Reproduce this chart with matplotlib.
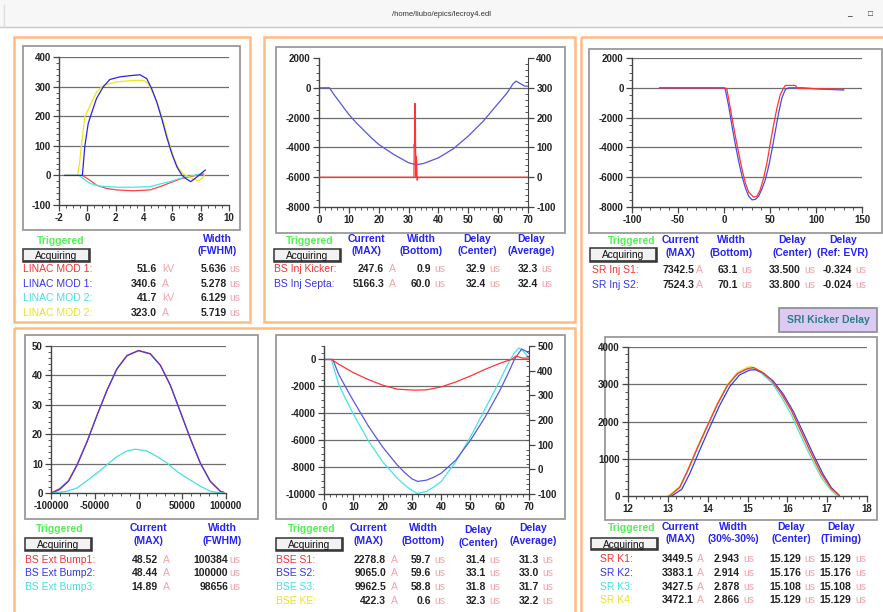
import matplotlib
matplotlib.use("Agg")
import matplotlib.pyplot as plt
from matplotlib.patches import Rectangle
from matplotlib.ticker import MultipleLocator

plt.rcParams["axes.unicode_minus"] = False

W, H = 883, 612

# ---- curve data ----
# linac modulators, x in us
mod1_volt_x = [-0.35, 0.17, 0.65, 1.35, 2.06, 3.24, 4.43, 5.13, 5.84, 6.55, 7.26, 7.97, 8.2]
mod1_volt_y = [0, -16, -33, -44, -49, -52, -49, -38, -25, -12, -4, 3, 4]
mod1_cur_x = [-1.6, -0.35, -0.18, 0.06, 0.29, 0.65, 1.12, 1.59, 2.3, 3.24, 3.72, 4.19, 4.54, 4.9,
              5.25, 5.6, 5.96, 6.32, 6.67, 7.02, 7.3, 7.61, 7.97, 8.32]
mod1_cur_y = [0, 0, 97, 175, 209, 260, 299, 324, 333, 338, 340, 327, 293, 248,
              192, 130, 74, 29, 1, -13, -21, -10, 4, 18]
mod2_volt_x = [-1.6, -0.6, -0.3, 0.17, 0.88, 2.06, 3.24, 4.43, 5.13, 5.84, 6.55, 7.26, 7.97, 8.2]
mod2_volt_y = [0, 0, -10, -27, -36, -40, -40, -38, -29, -21, -10, -2, 4, 7]
mod2_cur_x = [-1.6, -0.7, -0.55, -0.42, -0.18, 0.17, 0.65, 1.12, 2.06, 3.24, 3.95, 4.3, 4.66, 5.0,
              5.37, 5.72, 6.08, 6.43, 6.79, 7.14, 7.5, 7.85, 8.09, 8.25]
mod2_cur_y = [0, 0, 40, 100, 198, 234, 282, 304, 316, 321, 321, 310, 276, 237,
              181, 119, 63, 24, 4, -4, -13, -18, -10, 0]

# bs injection
septa_x = [0, 3.5, 5, 7.5, 10, 12.5, 15, 17.5, 20, 25, 30, 32.5, 35, 40, 45, 50, 55, 60, 63, 65,
           66, 67.5, 69, 70]
septa_y = [0, 0, -450, -1120, -1790, -2350, -2850, -3350, -3800, -4470, -5030, -5160, -5080,
           -4700, -4090, -3240, -2240, -1050, -340, 270, 450, 270, 110, 110]
kicker_x = [0, 31.8, 31.9, 32.0, 32.1, 32.25, 32.4, 32.5, 32.6, 32.75, 32.85, 33.0, 33.1, 70]
kicker_y = [0, 0, 110, 100, 248, 240, 0, 55, 70, 40, -10, -8, 0, 0]

# sr injection septa
sr_s1_x = [-70, 0, 3, 8.7, 12.3, 15.9, 19.6, 23.2, 26.8, 32.2, 35.9, 39.5, 43.1, 46.7, 50.4,
           54, 57.6, 61.2, 64.9, 66.7, 77.5, 80, 100, 130]
sr_s1_y = [0, 0, -50, -2010, -3240, -4360, -5480, -6380, -7000, -7340, -7270, -6820, -6040,
           -5030, -3690, -2460, -1340, -450, 0, 160, 160, -40, -60, -100]
sr_s2_x = [-70, 0, 1.4, 5.1, 8.7, 12.3, 15.9, 19.6, 23.2, 26.8, 30.4, 34.1, 37.7, 41.3, 45,
           48.6, 52.2, 55.8, 59.4, 63, 66.7, 70.3, 84.8, 99, 113.8, 130]
sr_s2_y = [0, 0, -100, -1230, -2570, -3800, -4920, -5930, -6710, -7270, -7520, -7490, -7270,
           -6780, -6150, -5260, -4140, -2910, -1680, -670, -110, 0, 0, -60, -110, -150]

# bs extraction bumps
bump_x = [-98000, -90000, -80000, -70300, -58900, -47400, -36000, -24600, -13100, 0, 13500,
          25000, 36400, 47800, 59200, 70700, 82100, 93500, 97300]
bump1_y = [0.3, 1.5, 4.2, 9.6, 17.5, 26.5, 35, 42.3, 46.8, 48.5, 47.4, 43.5, 36.7, 27.7, 18.6,
           10.2, 4, 0.6, 0.2]
bump2_y = [0.1, 1.2, 4.0, 9.4, 17.3, 26.4, 34.9, 42.2, 46.7, 48.4, 47.3, 43.4, 36.6, 27.6, 18.5,
           10.1, 3.9, 0.6, 0.2]
bump3_x = [-97000, -81700, -70300, -58900, -47400, -36000, -24600, -13100, -3600, 9700, 21100,
           32600, 44000, 55400, 70700, 82100, 93500, 97000]
bump3_y = [0, 0.6, 1.7, 4.2, 6.8, 9.6, 12.4, 14.3, 14.9, 14.3, 12.4, 10.2, 7.3, 5.1, 2.3, 0.6, 0, 0]

# bs extraction septa
bse_s1_x = [0, 2.5, 5, 10, 15, 20, 25, 31, 35, 40, 45, 50, 55, 60, 64, 65.5, 67, 68, 70]
bse_s1_y = [0, 0, -350, -980, -1480, -1910, -2210, -2280, -2260, -2040, -1670, -1230, -735,
            -290, 0, 250, 150, 100, 100]
bse_s2_x = [0, 3, 5, 7.5, 10, 15, 20, 25, 27.5, 30, 32, 35, 37.5, 40, 45, 50, 55, 60, 63, 65,
            67.5, 69, 70]
bse_s2_y = [0, 0, -1100, -2100, -3060, -4900, -6500, -7840, -8400, -8870, -9065, -8970, -8750,
            -8460, -7480, -6010, -4290, -2330, -980, 0, 780, 610, 440]
bse_s3_x = [0, 2.5, 5, 7.5, 10, 15, 20, 25, 27.5, 30, 31.8, 35, 37.5, 40, 45, 50, 55, 60, 63,
            65, 66.5, 68, 70]
bse_s3_y = [0, 0, -1840, -2980, -4040, -6000, -7600, -8820, -9330, -9730, -9960, -9800, -9480,
            -9070, -7600, -5760, -3680, -1590, -245, 490, 860, 610, 120]

# sr kickers
k1_x = [13.05, 13.3, 13.5, 13.75, 14.0, 14.25, 14.5, 14.75, 15.0, 15.15, 15.35, 15.6, 15.85,
        16.1, 16.35, 16.6, 16.85, 17.1, 17.3]
k1_y = [0, 240, 690, 1315, 1900, 2480, 2975, 3290, 3420, 3450, 3330, 3110, 2750, 2300, 1720,
        1140, 600, 200, 20]
k2_x = [13.1, 13.35, 13.55, 13.8, 14.05, 14.3, 14.55, 14.8, 15.05, 15.2, 15.4, 15.65, 15.9,
        16.15, 16.4, 16.65, 16.9, 17.1, 17.3]
k2_y = [0, 180, 600, 1230, 1840, 2430, 2930, 3250, 3380, 3390, 3300, 3080, 2730, 2270, 1700,
        1120, 580, 230, 20]
k3_x = [13.0, 13.3, 13.5, 13.75, 14.0, 14.25, 14.5, 14.75, 15.0, 15.15, 15.35, 15.6, 15.85,
        16.1, 16.35, 16.6, 16.85, 17.1, 17.25]
k3_y = [0, 220, 660, 1290, 1880, 2460, 2960, 3280, 3410, 3420, 3300, 3050, 2660, 2180, 1590,
        1020, 500, 150, 10]
k4_x = [13.0, 13.3, 13.5, 13.75, 14.0, 14.25, 14.5, 14.75, 15.0, 15.1, 15.35, 15.6, 15.85,
        16.1, 16.35, 16.6, 16.85, 17.1, 17.3]
k4_y = [0, 250, 700, 1330, 1920, 2500, 3000, 3320, 3460, 3470, 3350, 3120, 2740, 2280, 1700,
        1110, 570, 180, 10]

# ---- readout tables ----
linac_names = ["LINAC MOD 1:", "LINAC MOD 1:", "LINAC MOD 2:", "LINAC MOD 2:"]
linac_max = ["51.6", "340.6", "41.7", "323.0"]
linac_units = ["kV", "A", "kV", "A"]
linac_fwhm = ["5.636", "5.278", "6.129", "5.719"]

bsinj_names = ["BS Inj Kicker:", "BS Inj Septa:"]
bsinj_max = ["247.6", "5166.3"]
bsinj_width = ["0.9", "60.0"]
bsinj_center = ["32.9", "32.4"]
bsinj_avg = ["32.3", "32.4"]

srinj_names = ["SR Inj S1:", "SR Inj S2:"]
srinj_max = ["7342.5", "7524.3"]
srinj_width = ["63.1", "70.1"]
srinj_center = ["33.500", "33.800"]
srinj_evr = ["-0.324", "-0.024"]

bump_names = ["BS Ext Bump1:", "BS Ext Bump2:", "BS Ext Bump3:"]
bump_max = ["48.52", "48.44", "14.89"]
bump_fwhm = ["100384", "100000", "98656"]

bse_names = ["BSE S1:", "BSE S2:", "BSE S3:", "BSE KE:"]
bse_max = ["2278.8", "9065.0", "9962.5", "422.3"]
bse_width = ["59.7", "59.6", "58.8", "0.6"]
bse_center = ["31.4", "33.1", "31.8", "32.3"]
bse_avg = ["31.3", "33.0", "31.7", "32.2"]

kick_names = ["SR K1:", "SR K2:", "SR K3:", "SR K4:"]
kick_max = ["3449.5", "3383.1", "3427.5", "3472.1"]
kick_width = ["2.943", "2.914", "2.878", "2.866"]
kick_center = ["15.129", "15.176", "15.108", "15.129"]
kick_timing = ["15.129", "15.176", "15.108", "15.129"]

RED = "#f03535"
BLUE = "#3535e0"
CYAN = "#45e0e0"
YELLOW = "#e4e42a"
HDR = "#2424f2"
GREEN = "#55f055"
PINK = "#f4a3ab"
DARK = "#222222"
ORANGE = "#ffbb80"
FONT = "Liberation Sans"

fig = plt.figure(figsize=(W / 100, H / 100), dpi=100)
fig.patch.set_facecolor("white")

# background axes in screen pixels
bg = fig.add_axes([0, 0, 1, 1])
bg.set_xlim(0, W)
bg.set_ylim(H, 0)
bg.axis("off")


def rect(x0, y0, x1, y1, **kw):
    bg.add_patch(Rectangle((x0, y0), x1 - x0, y1 - y0, **kw))


def txt(x, y, s, color=DARK, ha="left", bold=False, size=7.5):
    bg.text(x, y, s, color=color, ha=ha, va="center", fontsize=size,
            fontweight="bold" if bold else "normal", family=FONT)


def button(x0, y0, x1, y1, label="Acquiring"):
    rect(x0, y0, x1, y1, facecolor="#f2f2f2", edgecolor="#333333", lw=1.1)
    bg.plot([x0 + 1, x1 - 1], [y1 - 1, y1 - 1], color="#333333", lw=1.2)
    bg.plot([x1 - 1, x1 - 1], [y0 + 1, y1 - 1], color="#333333", lw=1.2)
    txt((x0 + x1) / 2, (y0 + y1) / 2 + 0.5, label, color="#111111", ha="center", size=7.3)


def header(x, y, a, b):
    txt(x, y, a, color=HDR, ha="center", bold=True, size=7.5)
    txt(x, y + 12.5, b, color=HDR, ha="center", bold=True, size=7.5)


# title bar
rect(0, 0, W, 27, facecolor="#f7f7f7", edgecolor="none")
bg.plot([0, W], [27, 27], color="#c8c8c8", lw=1)
bg.plot([4, 4], [5, 27], color="#dddddd", lw=1)
txt(441, 14, "/home/liubo/epics/lecroy4.edl", color="#333333", ha="center", size=5.5)
txt(849, 15, "_", color="#333333", ha="center", size=6, bold=True)
txt(870, 14, "\u25a1", color="#333333", ha="center", size=6)

# orange group boxes
for x0, y0, x1, y1 in [(14, 37, 250, 322), (264, 37, 575, 322), (581, 37, 895, 625), (14, 328, 575, 625)]:
    rect(x0, y0, x1, y1, facecolor="none", edgecolor=ORANGE, lw=1.8)

# plot frames
for x0, y0, x1, y1 in [(23, 46, 240, 230), (276, 47, 565, 233), (589, 49, 882, 233),
                       (25, 335, 258, 519), (276, 335, 565, 519), (605, 337, 877, 520)]:
    rect(x0, y0, x1, y1, facecolor="white", edgecolor="#9a9a9a", lw=1.3)


def make_ax(l, t, r, b, xlim, ylim, xmaj, ymaj, xmin, ymin, grid):
    ax = fig.add_axes([l / W, 1 - b / H, (r - l) / W, (b - t) / H])
    ax.patch.set_alpha(0)
    ax.set_xlim(*xlim)
    ax.set_ylim(*ylim)
    ax.xaxis.set_major_locator(MultipleLocator(xmaj))
    ax.xaxis.set_minor_locator(MultipleLocator(xmin))
    ax.yaxis.set_major_locator(MultipleLocator(ymaj))
    ax.yaxis.set_minor_locator(MultipleLocator(ymin))
    for s in ["top", "right"]:
        ax.spines[s].set_visible(False)
    for s in ["left", "bottom"]:
        ax.spines[s].set_color("#444444")
        ax.spines[s].set_linewidth(1)
    ax.tick_params(which="major", length=4, width=0.9, color="#444444", labelsize=7,
                   labelcolor=DARK, pad=2)
    ax.tick_params(which="minor", length=2.2, width=0.7, color="#555555")
    for lab in ax.get_xticklabels() + ax.get_yticklabels():
        lab.set_fontweight("bold")
        lab.set_family(FONT)
    for g in grid:
        ax.axhline(g, color="#6e6e6e", lw=0.9, zorder=0.5)
    return ax


def right_axis(ax, ylim, ymaj, ymin):
    ax2 = ax.twinx()
    ax2.patch.set_alpha(0)
    ax2.set_ylim(*ylim)
    ax2.yaxis.set_major_locator(MultipleLocator(ymaj))
    ax2.yaxis.set_minor_locator(MultipleLocator(ymin))
    for s in ["top", "left", "bottom"]:
        ax2.spines[s].set_visible(False)
    ax2.spines["right"].set_color("#444444")
    ax2.tick_params(which="major", length=4, width=0.9, color="#444444", labelsize=7,
                    labelcolor=DARK, pad=2)
    ax2.tick_params(which="minor", length=2.2, width=0.7, color="#555555", direction="in")
    for lab in ax2.get_yticklabels():
        lab.set_fontweight("bold")
        lab.set_family(FONT)
    return ax2


# ---- plot A: linac modulators ----
ax = make_ax(59, 57, 229, 205, (-2, 10), (-100, 400), 2, 100, 0.5, 20, [0, 100, 200, 300, 400])
ax.plot(mod1_volt_x, mod1_volt_y, color="#ff4444", lw=0.9)
ax.plot(mod2_volt_x, mod2_volt_y, color="#44e8e8", lw=0.9)
ax.plot(mod2_cur_x, mod2_cur_y, color="#e8e820", lw=0.9)
ax.plot(mod1_cur_x, mod1_cur_y, color="#2525e8", lw=0.9)

# ---- plot B: bs injection ----
ax = make_ax(319, 58, 528, 207, (0, 70), (-8000, 2000), 10, 2000, 2, 500, [0, -2000, -4000, -6000])
ax.plot(septa_x, septa_y, color="#5555e0", lw=0.9)
ax2 = right_axis(ax, (-100, 400), 100, 20)
ax2.plot(kicker_x, kicker_y, color="#ff3333", lw=0.9)

# ---- plot C: sr injection ----
ax = make_ax(632, 58, 862, 207, (-100, 150), (-8000, 2000), 50, 2000, 10, 500,
             [2000, 0, -2000, -4000, -6000])
ax.plot(sr_s2_x, sr_s2_y, color="#4a4ae8", lw=0.9)
ax.plot(sr_s1_x, sr_s1_y, color="#ff3535", lw=0.9)

# ---- plot D: bs extraction bumps ----
ax = make_ax(51, 346, 226, 493, (-100000, 100000), (0, 50), 50000, 10, 10000, 2,
             [10, 20, 30, 40, 50])
ax.plot(bump_x, bump1_y, color="#ff3535", lw=0.9)
ax.plot(bump_x, bump2_y, color="#4040e0", lw=0.9)
ax.plot(bump3_x, bump3_y, color="#45e0e0", lw=0.9)

# ---- plot E: bs extraction septa ----
ax = make_ax(324, 346, 529, 494, (0, 70), (-10000, 1000), 10, 2000, 2, 500,
             [0, -2000, -4000, -6000, -8000])
ax.plot(bse_s3_x, bse_s3_y, color="#45e5e5", lw=0.9)
ax.plot(bse_s2_x, bse_s2_y, color="#5a5ae0", lw=0.9)
ax.plot(bse_s1_x, bse_s1_y, color="#ff3535", lw=0.9)
right_axis(ax, (-100, 500), 100, 20)

# ---- plot F: sr kickers ----
ax = make_ax(628, 347, 867, 496, (12, 18), (0, 4000), 1, 1000, 0.2, 200,
             [1000, 2000, 3000, 4000])
ax.plot(k3_x, k3_y, color="#45e5e5", lw=0.9)
ax.plot(k4_x, k4_y, color="#e8e820", lw=0.9)
ax.plot(k2_x, k2_y, color="#3a3ae8", lw=0.9)
ax.plot(k1_x, k1_y, color="#ff3535", lw=0.9)

# ---- readouts ----
cols4 = [RED, BLUE, CYAN, YELLOW]

# panel A
txt(61, 241, "Triggered", color=GREEN, ha="center", bold=True)
header(217, 239, "Width", "(FWHM)")
button(23, 249, 90, 262)
for i, y in enumerate([269, 284, 298, 313]):
    txt(23, y, linac_names[i], color=cols4[i])
    txt(157, y, linac_max[i], bold=True, ha="right")
    txt(162, y, linac_units[i], color=PINK)
    txt(227, y, linac_fwhm[i], bold=True, ha="right")
    txt(229, y, "us", color=PINK)

# panel B
txt(310, 241, "Triggered", color=GREEN, ha="center", bold=True)
header(366, 239, "Current", "(MAX)")
header(421, 239, "Width", "(Bottom)")
header(477, 239, "Delay", "(Center)")
header(531, 239, "Delay", "(Average)")
button(274, 249, 341, 262)
for i, y in enumerate([269, 284]):
    txt(274, y, bsinj_names[i], color=cols4[i])
    txt(384, y, bsinj_max[i], bold=True, ha="right")
    txt(389, y, "A", color=PINK)
    txt(431, y, bsinj_width[i], bold=True, ha="right")
    txt(434, y, "us", color=PINK)
    txt(486, y, bsinj_center[i], bold=True, ha="right")
    txt(489, y, "us", color=PINK)
    txt(538, y, bsinj_avg[i], bold=True, ha="right")
    txt(541, y, "us", color=PINK)

# panel C
txt(632, 241, "Triggered", color=GREEN, ha="center", bold=True)
header(680, 240, "Current", "(MAX)")
header(731, 240, "Width", "(Bottom)")
header(792, 240, "Delay", "(Center)")
header(843, 240, "Delay", "(Ref: EVR)")
button(590, 248, 657, 262)
for i, y in enumerate([270, 285]):
    txt(592, y, srinj_names[i], color=cols4[i])
    txt(694, y, srinj_max[i], bold=True, ha="right")
    txt(696, y, "A", color=PINK)
    txt(738, y, srinj_width[i], bold=True, ha="right")
    txt(741, y, "us", color=PINK)
    txt(801, y, srinj_center[i], bold=True, ha="right")
    txt(804, y, "us", color=PINK)
    txt(852, y, srinj_evr[i], bold=True, ha="right")
    txt(855, y, "us", color=PINK)

# kicker delay button
rect(779, 308, 877, 332, facecolor="#dccaf5", edgecolor="#8a8a8a", lw=1.2)
txt(828, 320, "SRI Kicker Delay", color="#2a8080", ha="center", bold=True, size=7.5)

# panel D
txt(60, 529, "Triggered", color=GREEN, ha="center", bold=True)
header(148, 528, "Current", "(MAX)")
header(222, 528, "Width", "(FWHM)")
button(25, 538, 92, 551)
for i, y in enumerate([560, 573, 587]):
    txt(25, y, bump_names[i], color=cols4[i])
    txt(158, y, bump_max[i], bold=True, ha="right")
    txt(163, y, "A", color=PINK)
    txt(228, y, bump_fwhm[i], bold=True, ha="right")
    txt(229, y, "us", color=PINK)

# panel E
txt(312, 529, "Triggered", color=GREEN, ha="center", bold=True)
header(368, 528, "Current", "(MAX)")
header(423, 528, "Width", "(Bottom)")
header(478, 530, "Delay", "(Center)")
header(533, 528, "Delay", "(Average)")
button(276, 538, 343, 551)
for i, y in enumerate([560, 573, 587, 601]):
    txt(276, y, bse_names[i], color=cols4[i])
    txt(386, y, bse_max[i], bold=True, ha="right")
    txt(391, y, "A", color=PINK)
    txt(431, y, bse_width[i], bold=True, ha="right")
    txt(434, y, "us", color=PINK)
    txt(486, y, bse_center[i], bold=True, ha="right")
    txt(489, y, "us", color=PINK)
    txt(539, y, bse_avg[i], bold=True, ha="right")
    txt(542, y, "us", color=PINK)

# panel F
txt(632, 528, "Triggered", color=GREEN, ha="center", bold=True)
header(680, 527, "Current", "(MAX)")
header(733, 527, "Width", "(30%-30%)")
header(791, 527, "Delay", "(Center)")
header(841, 527, "Delay", "(Timing)")
button(591, 538, 658, 550)
for i, y in enumerate([559, 573, 587, 600]):
    txt(600, y, kick_names[i], color=cols4[i])
    txt(694, y, kick_max[i], bold=True, ha="right")
    txt(697, y, "A", color=PINK)
    txt(740, y, kick_width[i], bold=True, ha="right")
    txt(743, y, "us", color=PINK)
    txt(801, y, kick_center[i], bold=True, ha="right")
    txt(804, y, "us", color=PINK)
    txt(851, y, kick_timing[i], bold=True, ha="right")
    txt(855, y, "us", color=PINK)

fig.savefig("out.png", dpi=100)
